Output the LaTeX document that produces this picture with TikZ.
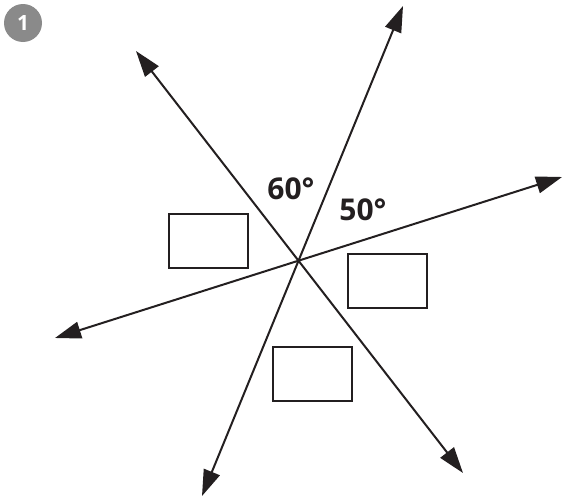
\documentclass[tikz,border=0pt]{standalone}
\usepackage{fontspec}
\newfontfamily\labfont{Open Sans}
\usetikzlibrary{arrows.meta}
\definecolor{ink}{HTML}{231F20}
\definecolor{badge}{HTML}{8A8A8A}
\tikzset{
  ray/.style={line width=2pt, draw=ink, {Triangle[length=26pt,width=17pt]}-{Triangle[length=26pt,width=17pt]}},
  answerbox/.style={draw=ink, line width=2pt, minimum width=79pt, minimum height=54pt, inner sep=0pt},
  anglelabel/.style={text=ink, font=\labfont\bfseries\fontsize{30}{30}\selectfont, inner sep=0pt},
  badgecircle/.style={circle, fill=badge, minimum size=38pt, inner sep=0pt, text=white, font=\labfont\bfseries\fontsize{21}{21}\selectfont}
}
\begin{document}
\begin{tikzpicture}[x=1pt,y=-1pt]
\useasboundingbox (0,0) rectangle (563,498);
\node[badgecircle] (badge) at (23,23) {1};
\coordinate (a1) at (136,51);
\coordinate (a2) at (463,473);
\coordinate (b1) at (403,6);
\coordinate (b2) at (202,496);
\coordinate (c1) at (562,177);
\coordinate (c2) at (55,338);
\draw[ray] (a1) -- (a2);
\draw[ray] (b1) -- (b2);
\draw[ray] (c1) -- (c2);
\node[anglelabel] (l60) at (291,189) {60°};
\node[anglelabel] (l50) at (363,210) {50°};
\node[answerbox] (box1) at (208.5,241) {};
\node[answerbox] (box2) at (387,280.5) {};
\node[answerbox] (box3) at (312.5,374) {};
\end{tikzpicture}
\end{document}
